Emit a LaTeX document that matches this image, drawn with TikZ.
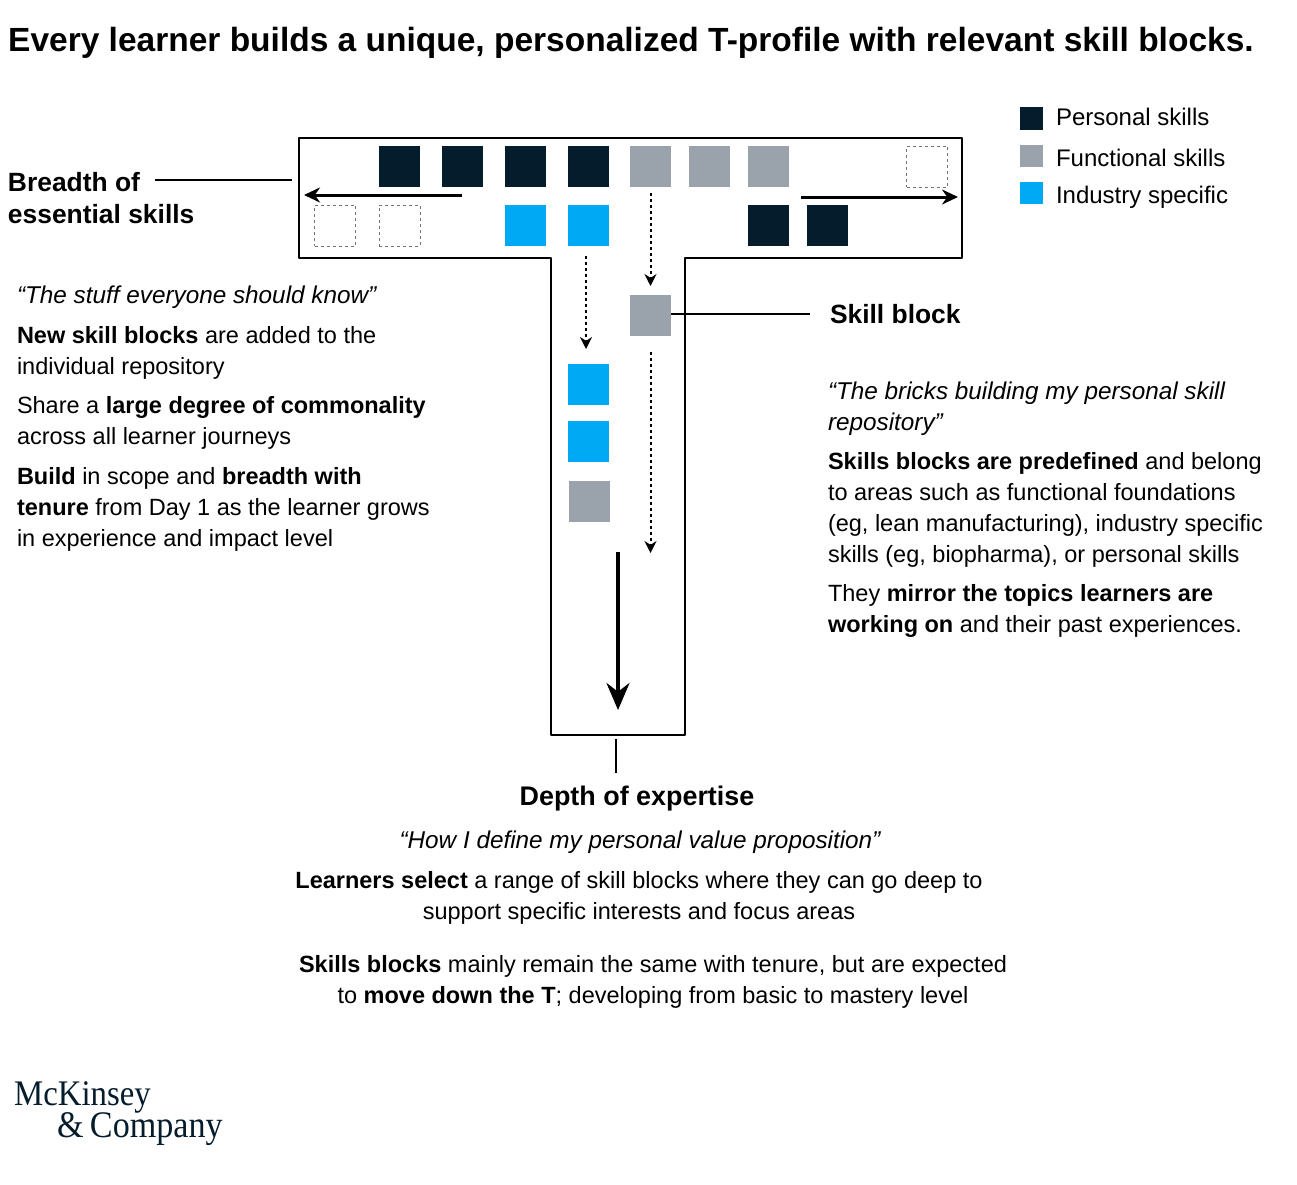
\documentclass[tikz,border=0pt]{standalone}
\usepackage{fontspec}
\setmainfont{Liberation Sans}
\newfontfamily\logofont[FakeStretch=0.91]{Liberation Serif}
\usetikzlibrary{arrows.meta}
\definecolor{navyblock}{HTML}{051C2C}
\definecolor{greyblock}{HTML}{9AA3AB}
\definecolor{cyanblock}{HTML}{00A9F4}
\begin{document}
\begin{tikzpicture}[x=1pt,y=-1pt,line join=round,>=stealth,
		block/.style={minimum size=41pt,inner sep=0pt,outer sep=0pt},
		emptyblock/.style={block,draw=black!55,dashed,line width=1pt},
		legendblock/.style={minimum size=22.5pt,inner sep=0pt,outer sep=0pt},
		copy/.style={inner sep=0pt,outer sep=0pt,align=left,font=\fontsize{23.5}{31}\selectfont},
		quote/.style={copy,font=\fontsize{24.3}{31}\selectfont\itshape},
		head/.style={inner sep=0pt,outer sep=0pt,align=left,font=\fontsize{26.4}{32}\selectfont\bfseries},
		bigarrow/.style={-{Stealth[length=16pt,width=15pt]},line width=3pt},
		dotarrow/.style={-{Stealth[length=12pt,width=12pt]},line width=2pt,dash pattern=on 3pt off 3pt}]
	\useasboundingbox (0,0) rectangle (1297,1184);
	% title
	\node[inner sep=0pt,anchor=west,font=\fontsize{33.5}{40}\selectfont\bfseries] (title) at (8,43) {Every learner builds a unique, personalized T-profile with relevant skill blocks.};
	% the T
	\draw[line width=2pt] (299,138)--(962,138)--(962,258)--(685,258)--(685,735)--(551,735)--(551,258)--(299,258)--cycle;
	% blocks
	\foreach \i/\x/\y/\c in {n1/399.5/166.5/navyblock, n2/462.5/166.5/navyblock, n3/525.5/166.5/navyblock, n4/588.5/166.5/navyblock,
		n5/768.5/225.5/navyblock, n6/827.5/225.5/navyblock,
		g1/650.5/166.5/greyblock, g2/709.5/166.5/greyblock, g3/768.5/166.5/greyblock, g4/589.5/501.5/greyblock, sb/650.5/315.5/greyblock,
		c1/525.5/225.5/cyanblock, c2/588.5/225.5/cyanblock, c3/588.5/384.5/cyanblock, c4/588.5/441.5/cyanblock}
		\node[block,fill=\c] (\i) at (\x,\y) {};
	\foreach \i/\x/\y in {e1/335/225.5, e2/399.5/225.5, e3/927/166.5}
		\node[emptyblock] (\i) at (\x,\y) {};
	% legend
	\foreach \i/\y/\v/\c/\t in {lp/118.5/117/navyblock/Personal skills, lf/156/158/greyblock/Functional skills, li/193/197/cyanblock/Industry specific}{
		\node[legendblock,fill=\c] (\i) at (1031.5,\y) {};
		\node[copy,font=\fontsize{24}{31}\selectfont,anchor=west] (\i t) at (1056,\v) {\t};
	}
	% labels
	\node[head,anchor=north west] (breadth) at (8,172) {Breadth of\\essential skills};
	\node[head,anchor=west] (skill) at (830,314) {Skill block};
	\node[head,font=\fontsize{26.9}{32}\selectfont\bfseries,anchor=center] (depth) at (637,799) {Depth of expertise};
	% left text
	\node[quote,anchor=north west] (q1) at (17,286) {“The stuff everyone should know”};
	\node[copy,anchor=north west] (p1) at (17,326) {\textbf{New skill blocks} are added to the\\individual repository};
	\node[copy,anchor=north west] (p2) at (17,396) {Share a \textbf{large degree of commonality}\\across all learner journeys};
	\node[copy,anchor=north west] (p3) at (17,467) {\textbf{Build} in scope and \textbf{breadth with}\\\textbf{tenure} from Day 1 as the learner grows\\in experience and impact level};
	% right text
	\node[quote,anchor=north west] (q2) at (828,382) {“The bricks building my personal skill\\repository”};
	\node[copy,anchor=north west] (p4) at (828,452) {\textbf{Skills blocks are predefined} and belong\\to areas such as functional foundations\\(eg, lean manufacturing), industry specific\\skills (eg, biopharma), or personal skills};
	\node[copy,anchor=north west] (p5) at (828,584) {They \textbf{mirror the topics learners are}\\\textbf{working on} and their past experiences.};
	% bottom text
	\node[quote,align=center,anchor=north] (q3) at (640,831) {“How I define my personal value proposition”};
	\node[copy,align=center,anchor=north] (p6) at (639,871) {\textbf{Learners select} a range of skill blocks where they can go deep to\\support specific interests and focus areas};
	\node[copy,align=center,anchor=north] (p7) at (653,955) {\textbf{Skills blocks} mainly remain the same with tenure, but are expected\\to \textbf{move down the T}; developing from basic to mastery level};
	% logo
	\node[inner sep=0pt,anchor=west,text=navyblock,font=\logofont\fontsize{36}{36}\selectfont] (logoa) at (14,1097) {McKinsey};
	\node[inner sep=0pt,anchor=west,text=navyblock,font=\logofont\fontsize{37.5}{36}\selectfont] (logob) at (57,1129) {\&\,Company};
	% connectors
	\path
	(155,180) coordinate (ba)
	(292,180) coordinate (bb)
	(810,314) coordinate (sk)
	(671,314) coordinate (sj)
	(616,739) coordinate (da)
	(616,773) coordinate (db)
	(462,195) coordinate (la)
	(304,195) coordinate (lb)
	(801,197) coordinate (ra)
	(958,197) coordinate (rb)
	(618,552) coordinate (ta)
	(618,710) coordinate (tb)
	(586,256) coordinate (ca)
	(586,349) coordinate (cb)
	(650.5,553) coordinate (se);
	\draw[line width=1.2pt] (ba)--(bb);
	\draw[line width=1.2pt] (sj)--(sk);
	\draw[line width=1.2pt] (da)--(db);
	\draw[bigarrow] (la)--(lb);
	\draw[bigarrow] (ra)--(rb);
	\draw[-{Stealth[length=27pt,width=23pt]},line width=3.6pt] (ta)--(tb);
	\draw[dotarrow,shorten <=6pt,shorten >=9pt] (g1)--(sb);
	\draw[dotarrow] (ca)--(cb);
	\draw[dotarrow,shorten <=16pt] (sb)--(se);
\end{tikzpicture}
\end{document}
